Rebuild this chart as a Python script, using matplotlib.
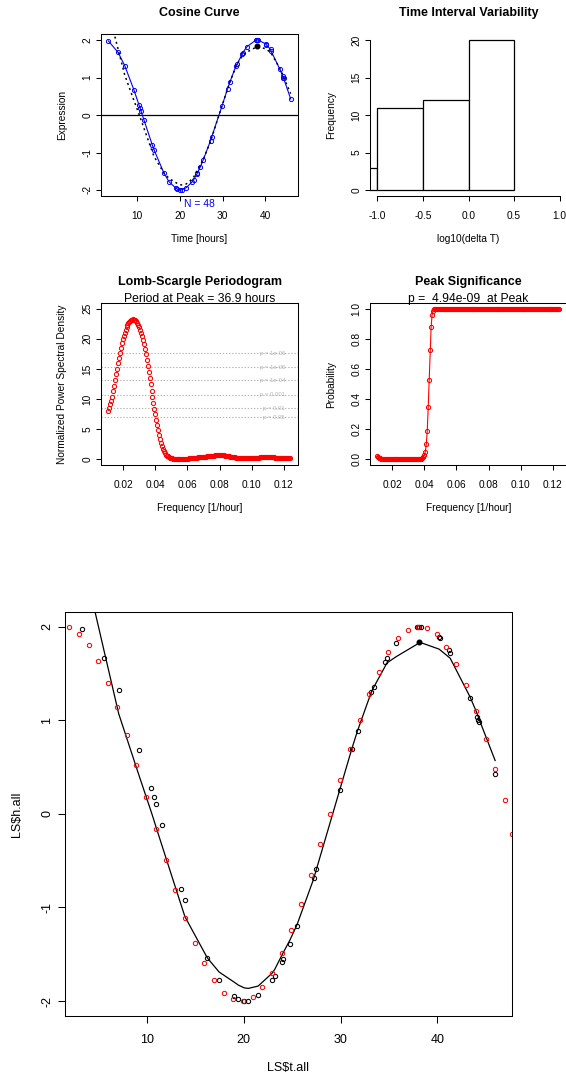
import numpy as np
import matplotlib
matplotlib.use('Agg')
import matplotlib.pyplot as plt
from matplotlib.ticker import FormatStrFormatter

plt.rcParams['font.family'] = ['Liberation Sans', 'DejaVu Sans']
plt.rcParams['axes.unicode_minus'] = False

# ---- observed series (black / blue points) and the fitted curve at the same times
t_obs = [3.28, 5.56, 7.11, 9.24, 10.44, 10.72, 10.93, 11.58, 13.57, 13.95,
         16.26, 17.47, 19.05, 19.46, 20.08, 20.5, 21.5, 22.97, 23.22, 24.0,
         24.1, 24.77, 25.49, 27.21, 27.46, 29.9, 31.18, 31.76, 33.14, 33.41,
         34.62, 34.75, 35.75, 37.86, 38.05, 38.27, 40.17, 40.23, 41.23, 41.33,
         43.36, 44.1, 44.2, 44.3, 45.95]
h_obs = [1.976, 1.67, 1.32, 0.677, 0.275, 0.185, 0.11, -0.12, -0.80, -0.92,
         -1.54, -1.778, -1.946, -1.98, -1.996, -1.996, -1.94, -1.775, -1.73, -1.58,
         -1.547, -1.393, -1.194, -0.681, -0.591, 0.25, 0.696, 0.888, 1.305, 1.36,
         1.626, 1.665, 1.826, 2.0, 2.0, 2.0, 1.893, 1.875, 1.751, 1.715,
         1.234, 1.035, 0.998, 0.977, 0.428]
h_fit = [2.78, 1.76, 1.07, 0.40, 0.03, -0.06, -0.13, -0.34, -0.98, -1.10,
         -1.54, -1.69, -1.80, -1.83, -1.86, -1.865, -1.84, -1.70, -1.66, -1.50,
         -1.48, -1.35, -1.19, -0.70, -0.61, 0.25, 0.70, 0.89, 1.29, 1.35,
         1.58, 1.61, 1.68, 1.81, 1.825, 1.83, 1.76, 1.755, 1.67, 1.66,
         1.25, 1.07, 1.04, 1.01, 0.57]
peak_t, peak_h = 38.13, 1.832

# ---- reference series (red points, bottom panel)
t_ref = [2.0, 2.97, 4.01, 4.97, 6.0, 6.96, 8.0, 8.93, 9.96, 10.93,
         11.96, 12.92, 13.95, 14.99, 15.95, 16.98, 17.95, 18.95, 19.95, 20.98,
         21.94, 22.97, 23.94, 24.94, 25.9, 26.94, 27.9, 28.94, 29.97, 30.93,
         31.96, 32.93, 33.97, 34.93, 35.96, 36.92, 37.96, 38.93, 39.96, 40.92,
         41.95, 42.92, 43.95, 44.98, 45.95, 46.94, 47.68]
h_ref = [2.0, 1.92, 1.80, 1.63, 1.40, 1.137, 0.845, 0.52, 0.185, -0.16,
         -0.49, -0.816, -1.11, -1.376, -1.596, -1.778, -1.914, -1.978, -1.996, -1.954,
         -1.853, -1.697, -1.49, -1.243, -0.962, -0.652, -0.32, 0.0, 0.357, 0.688,
         0.998, 1.28, 1.52, 1.73, 1.875, 1.965, 2.0, 1.99, 1.918, 1.783,
         1.60, 1.373, 1.099, 0.799, 0.482, 0.143, -0.21]

# ---- histogram of log10(delta T)
hist_breaks = [-1.5, -1.0, -0.5, 0.0, 0.5]
hist_counts = [3, 11, 12, 20]

# ---- Lomb-Scargle periodogram
freq = np.linspace(0.0106, 0.1240, 190)
power = [
    8.0, 8.55, 9.1, 9.7, 10.4, 11.3, 12.2, 13.2, 14.1, 15.0,
    16.0, 16.9, 17.7, 18.5, 19.3, 19.9, 20.5, 21.05, 21.5, 21.95,
    22.3, 22.6, 22.85, 23.0, 23.15, 23.2, 23.25, 23.2, 23.1, 22.9,
    22.65, 22.35, 22.0, 21.55, 21.05, 20.5, 19.85, 19.1, 18.3, 17.45,
    16.5, 15.55, 14.55, 13.5, 12.45, 11.4, 10.4, 9.4, 8.4, 7.45,
    6.5, 5.65, 4.85, 4.1, 3.4, 2.75, 2.2, 1.75, 1.35, 1.0,
    0.78, 0.6, 0.47, 0.36, 0.27, 0.2, 0.15, 0.11, 0.08, 0.05,
    0.03, 0.02, 0.01, 0.01, 0.0, 0.0, 0.01, 0.02, 0.03, 0.04,
    0.05, 0.07, 0.09, 0.11, 0.13, 0.15, 0.17, 0.19, 0.2, 0.22,
    0.24, 0.26, 0.28, 0.3, 0.31, 0.33, 0.35, 0.37, 0.39, 0.4,
    0.42, 0.44, 0.45, 0.47, 0.49, 0.51, 0.53, 0.55, 0.57, 0.59,
    0.61, 0.63, 0.64, 0.65, 0.66, 0.67, 0.67, 0.67, 0.66, 0.65,
    0.63, 0.61, 0.58, 0.55, 0.52, 0.49, 0.46, 0.43, 0.4, 0.37,
    0.34, 0.31, 0.29, 0.27, 0.25, 0.23, 0.21, 0.2, 0.19, 0.18,
    0.17, 0.17, 0.17, 0.17, 0.17, 0.17, 0.18, 0.18, 0.19, 0.2,
    0.21, 0.22, 0.23, 0.24, 0.25, 0.26, 0.27, 0.28, 0.29, 0.3,
    0.31, 0.32, 0.32, 0.33, 0.33, 0.33, 0.33, 0.33, 0.32, 0.32,
    0.31, 0.3, 0.29, 0.28, 0.27, 0.26, 0.25, 0.24, 0.23, 0.22,
    0.21, 0.2, 0.19, 0.18, 0.17, 0.16, 0.16, 0.15, 0.15, 0.15,
]
prob = [
    0.02, 0.012, 0.007, 0.004, 0.002, 0.001, 0.0, 0.0, 0.0, 0.0,
    0.0, 0.0, 0.0, 0.0, 0.0, 0.0, 0.0, 0.0, 0.0, 0.0,
    0.0, 0.0, 0.0, 0.0, 0.0, 0.0, 0.0, 0.0, 0.0, 0.0,
    0.0, 0.0, 0.0, 0.0, 0.0, 0.0, 0.0, 0.0, 0.0, 0.0,
    0.0, 0.0, 0.0, 0.0, 0.0, 0.0, 0.0, 0.005, 0.015, 0.03,
    0.05, 0.10, 0.19, 0.35, 0.53, 0.73, 0.88, 0.96, 0.99, 1.0,
    1.0, 1.0, 1.0, 1.0, 1.0, 1.0, 1.0, 1.0, 1.0, 1.0,
    1.0, 1.0, 1.0, 1.0, 1.0, 1.0, 1.0, 1.0, 1.0, 1.0,
    1.0, 1.0, 1.0, 1.0, 1.0, 1.0, 1.0, 1.0, 1.0, 1.0,
    1.0, 1.0, 1.0, 1.0, 1.0, 1.0, 1.0, 1.0, 1.0, 1.0,
    1.0, 1.0, 1.0, 1.0, 1.0, 1.0, 1.0, 1.0, 1.0, 1.0,
    1.0, 1.0, 1.0, 1.0, 1.0, 1.0, 1.0, 1.0, 1.0, 1.0,
    1.0, 1.0, 1.0, 1.0, 1.0, 1.0, 1.0, 1.0, 1.0, 1.0,
    1.0, 1.0, 1.0, 1.0, 1.0, 1.0, 1.0, 1.0, 1.0, 1.0,
    1.0, 1.0, 1.0, 1.0, 1.0, 1.0, 1.0, 1.0, 1.0, 1.0,
    1.0, 1.0, 1.0, 1.0, 1.0, 1.0, 1.0, 1.0, 1.0, 1.0,
    1.0, 1.0, 1.0, 1.0, 1.0, 1.0, 1.0, 1.0, 1.0, 1.0,
    1.0, 1.0, 1.0, 1.0, 1.0, 1.0, 1.0, 1.0, 1.0, 1.0,
    1.0, 1.0, 1.0, 1.0, 1.0, 1.0, 1.0, 1.0, 1.0, 1.0,
]
p_levels = [17.63, 15.3, 13.14, 10.75, 8.48, 6.98]
p_names = ['p = 1e-06', 'p = 1e-05', 'p = 1e-04', 'p = 0.001', 'p = 0.01', 'p = 0.05']

W, H = 566, 1076
fig = plt.figure(figsize=(W / 100, H / 100), dpi=100)


def add_box(box):
    l, t, r, b = box
    return fig.add_axes([l / W, 1 - b / H, (r - l) / W, (b - t) / H])


def fig_text(px, py, s, **kw):
    fig.text(px / W, 1 - py / H, s, ha='center', va='center', **kw)


def style(ax, size, tick_len, xpad, ypad):
    ax.tick_params(direction='out', length=tick_len, width=0.75, labelsize=size)
    ax.tick_params(axis='x', pad=xpad)
    ax.tick_params(axis='y', pad=ypad, labelrotation=90)
    for lab in ax.get_yticklabels():
        lab.set_va('center')
    for sp in ax.spines.values():
        sp.set_linewidth(0.75)


def labels(ax, box, xl, yl, xl_py, yl_px, size):
    l, t, r, b = box
    ax.set_xlabel(xl, fontsize=size)
    ax.set_ylabel(yl, fontsize=size)
    ax.xaxis.set_label_coords(0.5, (b - xl_py) / (b - t))
    ax.yaxis.set_label_coords((yl_px - l) / (r - l), 0.5)
    ax.xaxis.label.set_va('center')
    ax.yaxis.label.set_va('center')


fs = 7.3

# ---------------- Cosine Curve
b1 = (101, 34, 298, 196)
ax1 = add_box(b1)
ax1.axhline(0, color='black', lw=0.9)
ax1.plot(t_obs, h_obs, '-', color='blue', lw=0.8)
ax1.plot(t_obs, h_obs, 'o', mfc='none', mec='blue', ms=3.0, mew=0.7)
ax1.plot(t_obs, h_fit, color='black', lw=1.1, ls=(0, (1.3, 2.2)))
ax1.plot([peak_t], [peak_h], 'o', color='black', ms=3.3)
ax1.set_xlim(1.57, 47.66)
ax1.set_ylim(-2.16, 2.16)
ax1.set_xticks([10, 20, 30, 40])
ax1.set_yticks([-2, -1, 0, 1, 2])
style(ax1, fs, 3.6, 7, 2.5)
labels(ax1, b1, 'Time [hours]', 'Expression', 239.5, 62.3, fs)
fig_text(199.5, 12.7, 'Cosine Curve', fontsize=9, fontweight='bold')
fig_text(199, 204, 'N = 48', fontsize=7.5, color='blue')

# ---------------- Time Interval Variability
b2 = (370, 34, 567, 196)
ax2 = add_box(b2)
ax2.bar(hist_breaks[:-1], hist_counts, width=np.diff(hist_breaks), align='edge',
        color='white', edgecolor='black', linewidth=0.9)
ax2.set_xlim(-1.08, 1.08)
ax2.set_ylim(-0.8, 20.8)
ax2.set_xticks([-1.0, -0.5, 0.0, 0.5, 1.0])
ax2.set_yticks([0, 5, 10, 15, 20])
ax2.xaxis.set_major_formatter(FormatStrFormatter('%.1f'))
ax2.spines['top'].set_visible(False)
ax2.spines['right'].set_visible(False)
ax2.spines['left'].set_bounds(0, 20)
ax2.spines['bottom'].set_bounds(-1.0, 1.0)
style(ax2, fs, 3.6, 7, 2.5)
labels(ax2, b2, 'log10(delta T)', 'Frequency', 239.5, 330.7, fs)
fig_text(468.5, 12.7, 'Time Interval Variability', fontsize=9, fontweight='bold')

# ---------------- Lomb-Scargle Periodogram
b3 = (101, 303, 298, 465)
ax3 = add_box(b3)
for lev, name in zip(p_levels, p_names):
    ax3.axhline(lev, color='#b4b4b4', lw=0.8, ls=(0, (1.2, 1.6)))
    ax3.text(0.1208, lev, name, fontsize=4.3, color='#b4b4b4', ha='right', va='center')
ax3.plot(freq, power, 'o', mfc='none', mec='red', ms=3.0, mew=0.75)
ax3.set_xlim(0.0061, 0.1289)
ax3.set_ylim(-0.96, 25.96)
ax3.set_xticks([0.02, 0.04, 0.06, 0.08, 0.10, 0.12])
ax3.set_yticks([0, 5, 10, 15, 20, 25])
ax3.xaxis.set_major_formatter(FormatStrFormatter('%.2f'))
style(ax3, fs, 3.6, 7, 2.5)
labels(ax3, b3, 'Frequency [1/hour]', 'Normalized Power Spectral Density', 508.3, 62.3, fs)
fig_text(199.5, 281.7, 'Lomb-Scargle Periodogram', fontsize=9, fontweight='bold')
fig_text(199.5, 299, 'Period at Peak = 36.9 hours', fontsize=8.75)

# ---------------- Peak Significance
b4 = (370, 303, 567, 465)
ax4 = add_box(b4)
ax4.plot(freq, prob, '-', color='red', lw=0.8)
ax4.plot(freq, prob, 'o', mfc='none', mec='red', ms=3.0, mew=0.75)
ax4.set_xlim(0.0061, 0.1289)
ax4.set_ylim(-0.04, 1.04)
ax4.set_xticks([0.02, 0.04, 0.06, 0.08, 0.10, 0.12])
ax4.set_yticks([0.0, 0.2, 0.4, 0.6, 0.8, 1.0])
ax4.xaxis.set_major_formatter(FormatStrFormatter('%.2f'))
ax4.yaxis.set_major_formatter(FormatStrFormatter('%.1f'))
style(ax4, fs, 3.6, 7, 2.5)
labels(ax4, b4, 'Frequency [1/hour]', 'Probability', 508.3, 330.7, fs)
fig_text(468.5, 281.7, 'Peak Significance', fontsize=9, fontweight='bold')
fig_text(468.5, 299, 'p =  4.94e-09  at Peak', fontsize=8.75)

# ---------------- bottom: LS$t.all vs LS$h.all
b5 = (65, 611.7, 511.7, 1016)
ax5 = add_box(b5)
ax5.plot(t_obs, h_obs, 'o', mfc='none', mec='black', ms=3.1, mew=0.75)
ax5.plot(t_obs, h_fit, color='black', lw=0.9)
ax5.plot([peak_t], [peak_h], 'o', color='black', ms=3.3)
ax5.plot(t_ref, h_ref, 'o', mfc='none', mec='red', ms=3.1, mew=0.75)
ax5.set_xlim(1.57, 47.66)
ax5.set_ylim(-2.16, 2.16)
ax5.set_xticks([10, 20, 30, 40])
ax5.set_yticks([-2, -1, 0, 1, 2])
style(ax5, 9, 5, 8, 3.5)
labels(ax5, b5, 'LS$t.all', 'LS$h.all', 1067.7, 17, 9)

fig.savefig('out.png', dpi=100)
